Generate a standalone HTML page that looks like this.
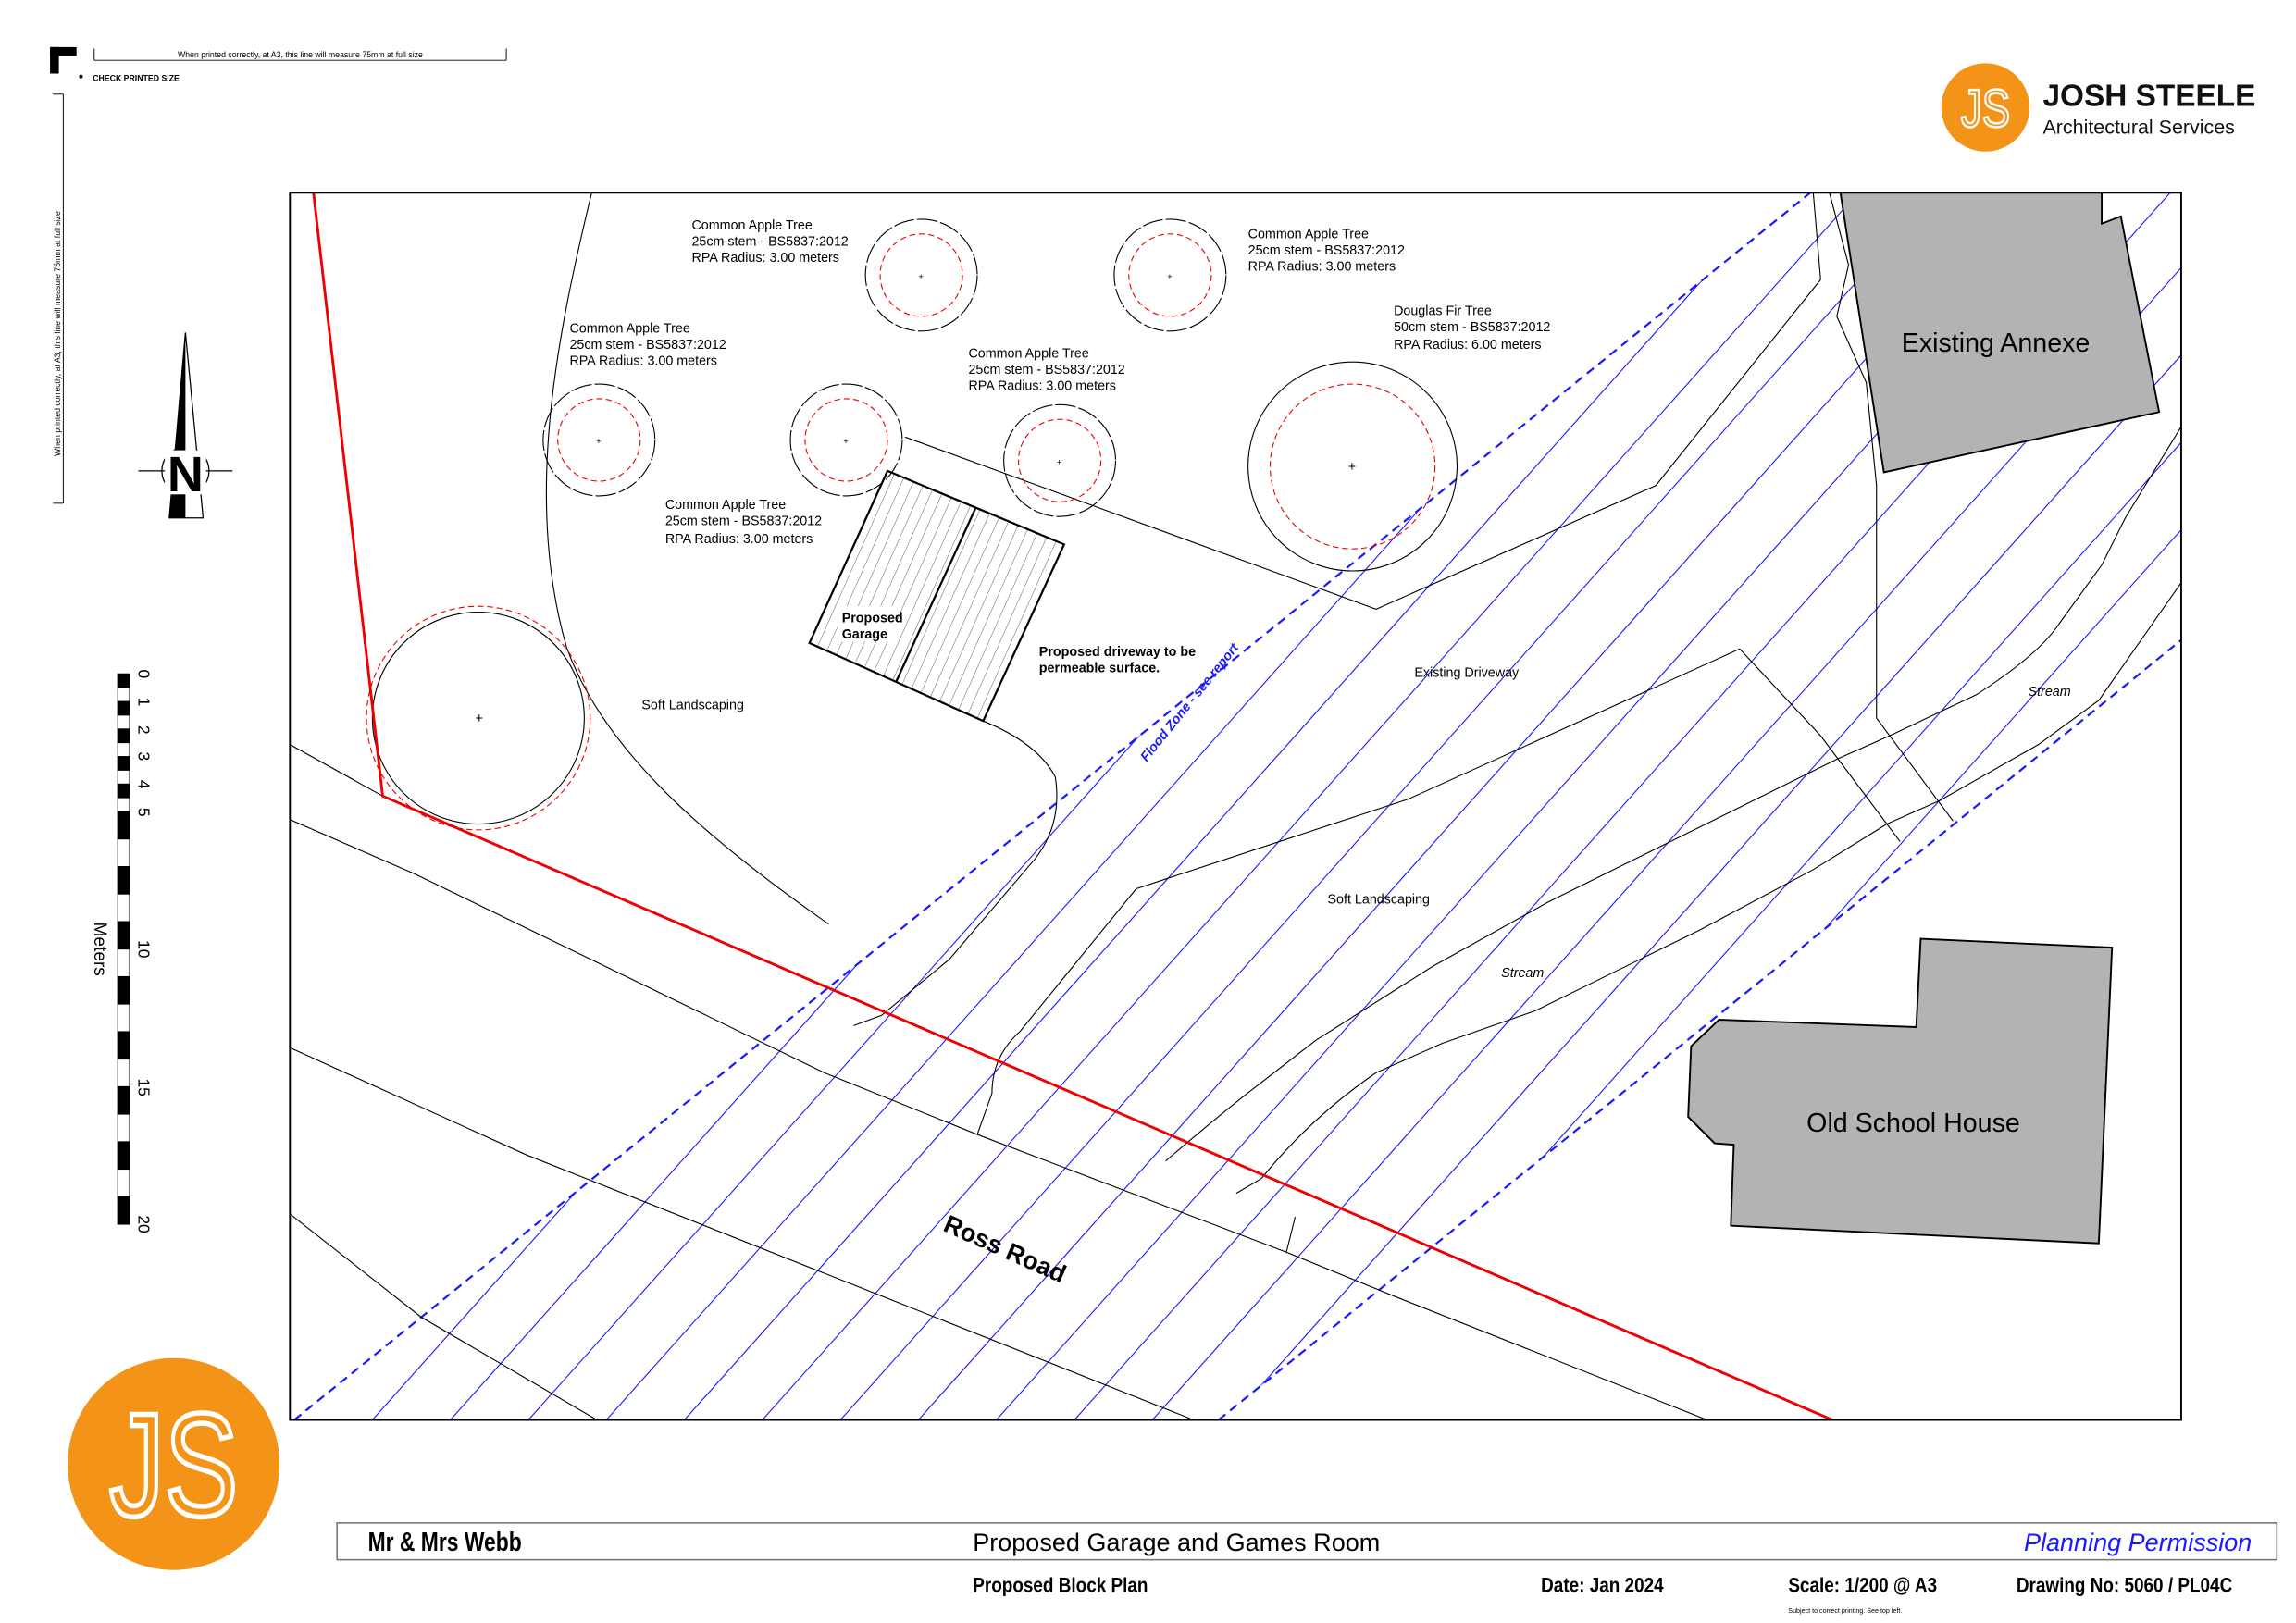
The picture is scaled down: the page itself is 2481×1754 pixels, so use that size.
<!DOCTYPE html>
<html><head><meta charset="utf-8"><style>
html,body{margin:0;padding:0;background:#fff;}
svg{display:block;}
text{font-family:"Liberation Sans",sans-serif;}
</style></head><body>
<svg width="2481" height="1754" viewBox="0 0 1560 1103" preserveAspectRatio="none" xmlns="http://www.w3.org/2000/svg">
<defs>
<clipPath id="frame"><rect x="197" y="131" width="1285" height="834"/></clipPath>
<clipPath id="band"><polygon points="200,965 1230,131 1482,131 1482,435 828,965"/></clipPath>
<pattern id="gh" patternUnits="userSpaceOnUse" width="7" height="7" patternTransform="rotate(24)"><line x1="0" y1="0" x2="0" y2="7" stroke="#000" stroke-width="0.4"/></pattern>
</defs>

<rect x="34" y="32" width="6" height="18" fill="#000"/><rect x="34" y="32" width="18" height="6" fill="#000"/>
<line x1="64" y1="41" x2="344" y2="41" stroke="#000" stroke-width="0.6"/>
<line x1="64" y1="33" x2="64" y2="41" stroke="#000" stroke-width="0.6"/><line x1="344" y1="33" x2="344" y2="41" stroke="#000" stroke-width="0.6"/>
<text x="204" y="39" font-size="5.5" text-anchor="middle">When printed correctly, at A3, this line will measure 75mm at full size</text>
<circle cx="55" cy="52" r="1.3" fill="#000"/>
<text x="63" y="55" font-size="5.5" font-weight="bold">CHECK PRINTED SIZE</text>
<line x1="43" y1="64" x2="43" y2="342" stroke="#000" stroke-width="0.6"/>
<line x1="36" y1="64" x2="43" y2="64" stroke="#000" stroke-width="0.6"/><line x1="36" y1="342" x2="43" y2="342" stroke="#000" stroke-width="0.6"/>
<text transform="translate(41,310) rotate(-90)" font-size="5.5">When printed correctly, at A3, this line will measure 75mm at full size</text>

<circle cx="126" cy="320" r="16" fill="none" stroke="#000" stroke-width="0.8"/>
<line x1="94" y1="320" x2="158" y2="320" stroke="#000" stroke-width="0.8"/>
<polygon points="126,226 115,352 138,352" fill="#fff" stroke="#000" stroke-width="0.8"/>
<polygon points="126,226 126,352 115,352" fill="#000"/>
<rect x="112" y="306" width="28" height="30" fill="#fff"/>
<text x="126" y="334" font-size="34" font-weight="bold" text-anchor="middle">N</text>

<g stroke="#000" stroke-width="0.6">
<rect x="80" y="458" width="8" height="374" fill="#fff"/>
<rect x="80" y="458" width="8" height="9.35" fill="#000"/>
<rect x="80" y="476.7" width="8" height="9.35" fill="#000"/>
<rect x="80" y="495.4" width="8" height="9.35" fill="#000"/>
<rect x="80" y="514.1" width="8" height="9.35" fill="#000"/>
<rect x="80" y="532.8" width="8" height="9.35" fill="#000"/>
<rect x="80" y="551.5" width="8" height="18.7" fill="#000"/>
<rect x="80" y="588.9" width="8" height="18.7" fill="#000"/>
<rect x="80" y="626.3" width="8" height="18.7" fill="#000"/>
<rect x="80" y="663.7" width="8" height="18.7" fill="#000"/>
<rect x="80" y="701.1" width="8" height="18.7" fill="#000"/>
<rect x="80" y="738.5" width="8" height="18.7" fill="#000"/>
<rect x="80" y="775.9" width="8" height="18.7" fill="#000"/>
<rect x="80" y="813.3" width="8" height="18.7" fill="#000"/>
</g>
<g font-size="11">
<text transform="translate(94,458) rotate(90)" text-anchor="middle">0</text>
<text transform="translate(94,477) rotate(90)" text-anchor="middle">1</text>
<text transform="translate(94,496) rotate(90)" text-anchor="middle">2</text>
<text transform="translate(94,514) rotate(90)" text-anchor="middle">3</text>
<text transform="translate(94,533) rotate(90)" text-anchor="middle">4</text>
<text transform="translate(94,552) rotate(90)" text-anchor="middle">5</text>
<text transform="translate(94,645) rotate(90)" text-anchor="middle">10</text>
<text transform="translate(94,739) rotate(90)" text-anchor="middle">15</text>
<text transform="translate(94,832) rotate(90)" text-anchor="middle">20</text>
<text transform="translate(64,645) rotate(90)" text-anchor="middle" font-size="12">Meters</text>
</g>

<circle cx="1349" cy="73" r="30" fill="#f39318"/>
<text x="1349" y="86" font-size="36" text-anchor="middle" fill="none" stroke="#fff" stroke-width="1.6" transform="translate(1349,0) scale(0.8,1) translate(-1349,0)">JS</text>
<text x="1388" y="72" font-size="21" font-weight="bold" fill="#111">JOSH STEELE</text>
<text x="1388" y="91" font-size="13.5" fill="#111">Architectural Services</text>

<circle cx="118" cy="995" r="72" fill="#f39318"/>
<text x="118" y="1030" font-size="100" text-anchor="middle" fill="none" stroke="#fff" stroke-width="3.5" transform="translate(118,0) scale(0.75,1) translate(-118,0)">JS</text>

<g clip-path="url(#frame)">
<g clip-path="url(#band)" stroke="#1a1aff" stroke-width="0.7">
<line x1="147" y1="965" x2="1087" y2="-88"/>
<line x1="200" y1="965" x2="1140" y2="-88"/>
<line x1="253" y1="965" x2="1193" y2="-88"/>
<line x1="306" y1="965" x2="1246" y2="-88"/>
<line x1="359" y1="965" x2="1299" y2="-88"/>
<line x1="412" y1="965" x2="1352" y2="-88"/>
<line x1="465" y1="965" x2="1405" y2="-88"/>
<line x1="518" y1="965" x2="1458" y2="-88"/>
<line x1="571" y1="965" x2="1511" y2="-88"/>
<line x1="624" y1="965" x2="1564" y2="-88"/>
<line x1="677" y1="965" x2="1617" y2="-88"/>
<line x1="730" y1="965" x2="1670" y2="-88"/>
<line x1="783" y1="965" x2="1723" y2="-88"/>
<line x1="836" y1="965" x2="1776" y2="-88"/>
<line x1="889" y1="965" x2="1829" y2="-88"/>
<line x1="942" y1="965" x2="1882" y2="-88"/>
</g>
<line x1="200" y1="965" x2="1230" y2="131" stroke="#1a1aff" stroke-width="1.4" stroke-dasharray="6,4"/>
<line x1="828" y1="965" x2="1482" y2="435" stroke="#1a1aff" stroke-width="1.4" stroke-dasharray="6,4"/>

<g fill="none" stroke="#000" stroke-width="0.7">
<polyline points="197,506 260,541"/>
<polyline points="197,557 282,594 560,729 664,771 874,851 950,882 1165,967"/>
<polyline points="197,712 358,785 816,967"/>
<polyline points="197,825 286,895 409,967"/>
<line x1="874" y1="851" x2="880" y2="827"/>
<path d="M668,490 Q705,505 717,528 Q722,560 703,584 L645,652 L599,690 L580,697"/>
<path d="M664,771 L674,743 Q674,718 693,701 L772,604 L957,543 L1182,441 L1237,500 L1291,572"/>
<polyline points="615,297 935,414 1125,330 1237,190 1232,131"/>
<polyline points="1243,131 1256,180 1248,215 1268,260 1275,330 1275,488 1327,558"/>
<path d="M792,789 Q820,765 845,745 L894,707 L973,657 L1052,613 L1248,516 L1284,500 L1343,472 Q1385,445 1399,424 L1428,384 L1444,352 L1482,290"/>
<path d="M840,811 L857,801 Q890,760 935,729 L980,709 L1043,687 L1155,632 L1232,591 L1282,560 L1318,544 L1385,506 L1426,476 L1482,396"/>
<path d="M402,131 C378,230 356,340 385,440 C410,510 480,570 563,628"/>
</g>

<g fill="none" stroke-width="0.7">
<circle cx="325" cy="488" r="72" stroke="#000"/>
<circle cx="325" cy="488" r="76" stroke="#e00" stroke-dasharray="4,2.5"/>
<circle cx="919" cy="317" r="71" stroke="#000"/>
<circle cx="919" cy="317" r="56" stroke="#e00" stroke-dasharray="4,2.5"/>
<circle cx="407" cy="299" r="38" stroke="#000" stroke-dasharray="14,2"/>
<circle cx="407" cy="299" r="28" stroke="#e00" stroke-dasharray="4,2.5"/>
<circle cx="575" cy="299" r="38" stroke="#000" stroke-dasharray="14,2"/>
<circle cx="575" cy="299" r="28" stroke="#e00" stroke-dasharray="4,2.5"/>
<circle cx="720" cy="313" r="38" stroke="#000" stroke-dasharray="14,2"/>
<circle cx="720" cy="313" r="28" stroke="#e00" stroke-dasharray="4,2.5"/>
<circle cx="626" cy="187" r="38" stroke="#000" stroke-dasharray="14,2"/>
<circle cx="626" cy="187" r="28" stroke="#e00" stroke-dasharray="4,2.5"/>
<circle cx="795" cy="187" r="38" stroke="#000" stroke-dasharray="14,2"/>
<circle cx="795" cy="187" r="28" stroke="#e00" stroke-dasharray="4,2.5"/>
</g>
<g font-size="9" fill="#000">
<text x="323" y="491">+</text><text x="916" y="320">+</text>
<text x="405" y="302" font-size="6">+</text><text x="573" y="302" font-size="6">+</text><text x="718" y="316" font-size="6">+</text><text x="624" y="190" font-size="6">+</text><text x="793" y="190" font-size="6">+</text>
</g>

<polygon points="603,320 723,370 668,490 550,437" fill="url(#gh)" stroke="#000" stroke-width="1.4"/>
<line x1="663" y1="345" x2="609" y2="463" stroke="#000" stroke-width="1.4"/>
<rect x="569" y="412" width="40" height="24" fill="#fff"/>

<polyline points="213,131 260,541 1245,965" fill="none" stroke="#e00" stroke-width="1.8"/>

<polygon points="1250,128 1428,128 1428,152 1441,147 1467,280 1280,321" fill="#b3b3b3" stroke="#000" stroke-width="1.2"/>
<polygon points="1305,638 1435,644 1426,845 1176,833 1178,778 1165,777 1147,759 1149,711 1168,693 1302,698" fill="#b3b3b3" stroke="#000" stroke-width="1.2"/>
</g>
<rect x="197" y="131" width="1285" height="834" fill="none" stroke="#000" stroke-width="1.2"/>

<g font-size="9">
<text x="470" y="156">Common Apple Tree</text><text x="470" y="167">25cm stem - BS5837:2012</text><text x="470" y="178">RPA Radius: 3.00 meters</text>
<text x="848" y="162">Common Apple Tree</text><text x="848" y="173">25cm stem - BS5837:2012</text><text x="848" y="184">RPA Radius: 3.00 meters</text>
<text x="387" y="226">Common Apple Tree</text><text x="387" y="237">25cm stem - BS5837:2012</text><text x="387" y="248">RPA Radius: 3.00 meters</text>
<text x="658" y="243">Common Apple Tree</text><text x="658" y="254">25cm stem - BS5837:2012</text><text x="658" y="265">RPA Radius: 3.00 meters</text>
<text x="947" y="214">Douglas Fir Tree</text><text x="947" y="225">50cm stem - BS5837:2012</text><text x="947" y="237">RPA Radius: 6.00 meters</text>
<text x="452" y="346">Common Apple Tree</text><text x="452" y="357">25cm stem - BS5837:2012</text><text x="452" y="369">RPA Radius: 3.00 meters</text>
<text x="436" y="482">Soft Landscaping</text>
<text x="961" y="460">Existing Driveway</text>
<text x="902" y="614">Soft Landscaping</text>
<text x="1020" y="664" font-style="italic">Stream</text>
<text x="1378" y="473" font-style="italic">Stream</text>
<text x="572" y="423" font-weight="bold">Proposed</text><text x="572" y="434" font-weight="bold">Garage</text>
<text x="706" y="446" font-weight="bold">Proposed driveway to be</text><text x="706" y="457" font-weight="bold">permeable surface.</text>
<text transform="translate(779,518) rotate(-51)" fill="#1a1aff" font-style="italic" font-weight="bold">Flood Zone - see report</text>
</g>
<text transform="translate(640,836) rotate(24)" font-size="17" font-weight="bold">Ross Road</text>
<text x="1356" y="239" font-size="18" text-anchor="middle">Existing Annexe</text>
<text x="1300" y="769" font-size="18" text-anchor="middle">Old School House</text>

<rect x="229" y="1035" width="1318" height="25" fill="none" stroke="#777" stroke-width="1"/>
<text x="250" y="1054" font-size="18" font-weight="bold" transform="translate(250,0) scale(0.8,1) translate(-250,0)">Mr &amp; Mrs Webb</text>
<text x="661" y="1054" font-size="17">Proposed Garage and Games Room</text>
<text x="1530" y="1054" font-size="17" fill="#1a1aff" font-style="italic" text-anchor="end">Planning Permission</text>
<g font-size="14" font-weight="bold">
<text x="661" y="1082" transform="translate(661,0) scale(0.85,1) translate(-661,0)">Proposed Block Plan</text>
<text x="1047" y="1082" transform="translate(1047,0) scale(0.85,1) translate(-1047,0)">Date:  Jan 2024</text>
<text x="1215" y="1082" transform="translate(1215,0) scale(0.85,1) translate(-1215,0)">Scale:  1/200 @ A3</text>
<text x="1370" y="1082" transform="translate(1370,0) scale(0.85,1) translate(-1370,0)">Drawing No:  5060 / PL04C</text>
</g>
<text x="1215" y="1096" font-size="4.5">Subject to correct printing. See top left.</text>
</svg>
</body></html>
